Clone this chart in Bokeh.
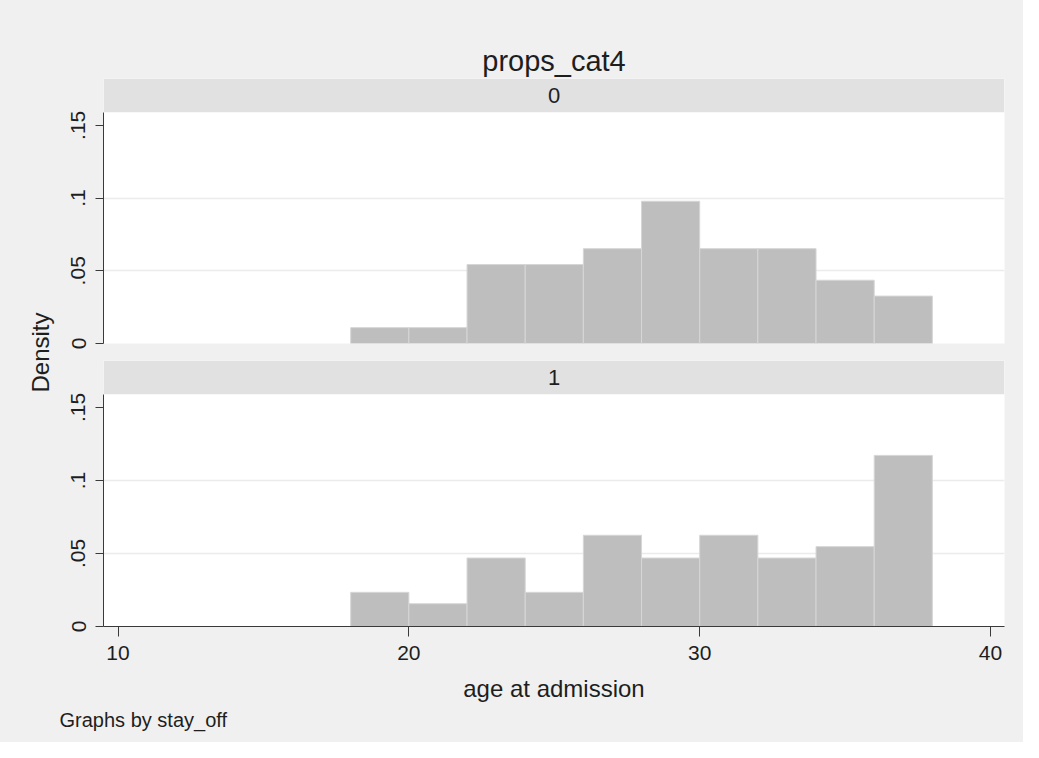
import math
from bokeh.plotting import figure
from bokeh.layouts import row, column
from bokeh.models import (Range1d, FixedTicker, CustomJSTickFormatter, BoxAnnotation,
                          Label, Title, ColumnDataSource)
from bokeh.embed import file_html
from bokeh.resources import INLINE

# ---------------- data ----------------
bin_left = [18, 20, 22, 24, 26, 28, 30, 32, 34, 36]
bin_width = 2
density_0 = [0.0109, 0.0109, 0.0543, 0.0543, 0.0652, 0.0978, 0.0652, 0.0652, 0.0435, 0.0326]
density_1 = [0.0234, 0.0156, 0.0469, 0.0234, 0.0625, 0.0469, 0.0625, 0.0469, 0.0547, 0.1172]
panel_labels = ["0", "1"]
x_ticks = [10, 20, 30, 40]
y_ticks = [0, 0.05, 0.10, 0.15]
y_grid = [0.05, 0.10]
chart_title = "props_cat4"
x_label = "age at admission"
y_label = "Density"
note = "Graphs by stay_off"

# ---------------- style ----------------
FONT = "Liberation Sans"
BG = "#f0f0f0"
STRIP = "#e1e1e1"
BAR = "#bebebe"
BAR_LINE = "#d6d6d6"
AXIS = "#3a3a3a"
TXT = "#1e1e1e"
X0, X1 = 9.5, 40.48
Y_PLOT = 0.159   # top of plotting region
Y_TOP = 0.1822   # top of strip
BGSTYLE = {"background-color": BG}

LW = 56          # width of the left label column
PW = 1023 - LW   # width of the panel figures


def make_panel(dens, label, height, mb_top, mb_bottom, show_x):
    p = figure(width=PW, height=height, output_backend="svg", toolbar_location=None,
               x_range=Range1d(X0, X1), y_range=Range1d(0, Y_TOP),
               x_axis_location="below" if show_x else None,
               min_border_left=103 - LW, min_border_right=19,
               min_border_top=mb_top, min_border_bottom=mb_bottom,
               background_fill_color="white", border_fill_color=BG,
               outline_line_color=None, styles=BGSTYLE)
    src = ColumnDataSource(dict(left=bin_left,
                                right=[b + bin_width for b in bin_left],
                                top=dens))
    p.quad(left="left", right="right", bottom=0, top="top", source=src,
           fill_color=BAR, line_color=BAR_LINE, line_width=1)
    # strip header
    p.add_layout(BoxAnnotation(bottom=Y_PLOT, fill_color=STRIP, fill_alpha=1,
                               line_color=None))
    p.add_layout(Label(x=(X0 + X1) / 2, y=(Y_PLOT + Y_TOP) / 2, text=label,
                       text_align="center", text_baseline="middle",
                       text_font=FONT, text_font_size="22px", text_color=TXT))
    # y axis
    ax = p.yaxis[0]
    ax.ticker = FixedTicker(ticks=y_ticks)
    ax.formatter = CustomJSTickFormatter(code="""
        if (tick == 0) return "0";
        return tick.toFixed(2).replace(/0+$/, "").replace(/^0/, "");
    """)
    ax.bounds = (0, Y_PLOT)
    ax.major_label_orientation = "vertical"
    ax.major_label_text_font = FONT
    ax.major_label_text_font_size = "21px"
    ax.major_label_text_color = TXT
    ax.major_label_standoff = 10
    ax.major_tick_out = 8
    ax.major_tick_in = 0
    ax.minor_tick_line_color = None
    ax.axis_line_color = AXIS
    ax.major_tick_line_color = AXIS
    p.ygrid.ticker = FixedTicker(ticks=y_grid)
    p.ygrid.grid_line_color = "#ebebeb"
    p.ygrid.grid_line_width = 1.5
    p.xgrid.grid_line_color = None
    if show_x:
        xa = p.xaxis[0]
        xa.ticker = FixedTicker(ticks=x_ticks)
        xa.major_label_text_font = FONT
        xa.major_label_text_font_size = "21px"
        xa.major_label_text_color = TXT
        xa.major_label_standoff = 9
        xa.major_tick_out = 10
        xa.major_tick_in = 0
        xa.minor_tick_line_color = None
        xa.axis_line_color = AXIS
        xa.major_tick_line_color = AXIS
        xa.axis_label = x_label
        xa.axis_label_text_font = FONT
        xa.axis_label_text_font_size = "24px"
        xa.axis_label_text_font_style = "normal"
        xa.axis_label_text_color = TXT
        xa.axis_label_standoff = 12
    return p


top = make_panel(density_0, panel_labels[0], 360, 78, 17, False)
top.add_layout(Title(text=chart_title, align="center", text_font=FONT,
                     text_font_size="29px", text_font_style="normal",
                     text_color=TXT, standoff=4), "above")

bot = make_panel(density_1, panel_labels[1], 382, 0, 116, True)
bot.add_layout(Title(text=note, align="left", offset=-44, text_font=FONT,
                     text_font_size="20px", text_font_style="normal",
                     text_color=TXT, standoff=4), "below")

lab = figure(width=LW, height=742, output_backend="svg", toolbar_location=None,
             x_range=Range1d(0, LW), y_range=Range1d(0, 742),
             x_axis_location=None, y_axis_location=None,
             min_border=0, outline_line_color=None,
             background_fill_color=BG, border_fill_color=BG, styles=BGSTYLE)
lab.grid.grid_line_color = None
lab.add_layout(Label(x=40, y=742 - 352, text=y_label, angle=math.pi / 2,
                     text_align="center", text_baseline="middle",
                     text_font=FONT, text_font_size="24px", text_color=TXT))

layout = row(lab, column(top, bot, spacing=0, styles=BGSTYLE),
             spacing=0, styles=BGSTYLE)

open("out.html", "w").write(file_html(layout, INLINE))
